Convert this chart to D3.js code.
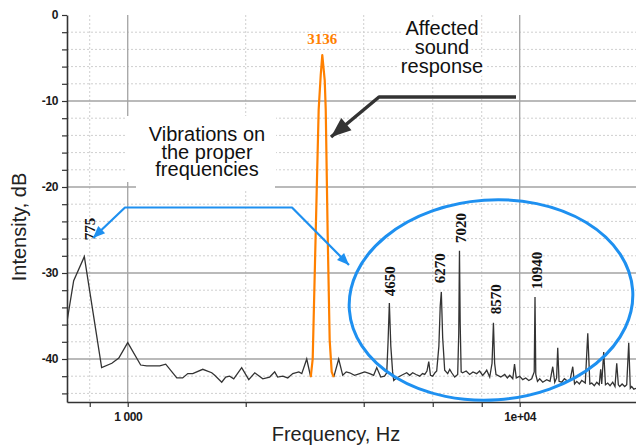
<!DOCTYPE html>
<html>
<head>
<meta charset="utf-8">
<script src="https://cdn.jsdelivr.net/npm/d3@7"></script>
<style>
  body { margin: 0; background: #fff; }
  svg { display: block; font-family: "Liberation Sans", Arial, sans-serif; }
</style>
</head>
<body>
<svg id="chart" width="636" height="448"></svg>
<script>

// spectrum below the resonance (Hz / dB)
var lowFreq = [699, 728, 775, 858, 911, 949, 1000, 1079, 1118, 1207, 1250, 1334, 1381, 1423, 1465,
  1554, 1638, 1667, 1737, 1778, 1820, 1864, 1953, 2036, 2109, 2211, 2302, 2371, 2413, 2486,
  2560, 2637, 2732, 2780, 2862, 2930];
var lowDb = [-35.8, -30.9, -28.1, -41.0, -40.5, -39.9, -38.1, -40.7, -40.8, -40.8, -40.6, -42.2, -42.2, -41.7, -41.7,
  -41.2, -41.6, -41.9, -42.7, -42.1, -42.0, -42.3, -41.0, -42.4, -41.6, -42.3, -42.1, -41.5, -42.1, -42.0,
  -42.2, -41.7, -41.5, -41.7, -40.0, -42.1];

// affected sound response (orange peak)
var peakFreq = [2930, 2964, 2999, 3034, 3070, 3107, 3136, 3181, 3200, 3237, 3275, 3314, 3354];
var peakDb = [-42.1, -40.0, -30.3, -20.7, -11.0, -7.0, -4.65, -7.6, -11.0, -25.6, -37.8, -41.5, -42.1];

// spectrum above the resonance
var highFreq = [3354, 3453, 3536, 3610, 3684, 3790, 3907, 4024, 4144, 4240, 4318, 4421, 4520, 4579, 4615,
  4650, 4690, 4740, 4771, 4850, 4943, 5040, 5149, 5240, 5333, 5440, 5558, 5650, 5724, 5800,
  5861, 5920, 5999, 6080, 6141, 6220, 6270, 6310, 6360, 6436, 6551, 6630, 6707, 6826, 6947,
  6990, 7020, 7050, 7090, 7152, 7300, 7453, 7600, 7767, 7900, 8046, 8150, 8238, 8385, 8500,
  8570, 8630, 8700, 8788, 8950, 9157, 9300, 9430, 9600, 9700, 9800, 10000, 10180, 10359, 10550,
  10730, 10890, 10940, 10990, 11100, 11245, 11450, 11718, 11950, 12141, 12285, 12420, 12502, 12600, 12799,
  13000, 13259, 13450, 13655, 13800, 13980, 14200, 14398, 14700, 14915, 15100, 15270, 15500, 15726, 15950,
  16091, 16188, 16379, 16550, 16768, 17000, 17270, 17500, 17681, 17850, 17996, 18250, 18532, 18750, 18972,
  19150, 19307, 19550, 19800];
var highDb = [-42.1, -40.0, -41.9, -41.5, -41.6, -41.9, -41.7, -41.5, -41.7, -41.9, -41.0, -42.1, -42.0, -41.6, -38.0,
  -33.5, -38.5, -41.5, -42.5, -42.2, -42.0, -41.8, -41.6, -41.9, -41.6, -41.8, -42.0, -41.7, -41.8, -41.4,
  -40.3, -41.9, -42.0, -41.6, -41.4, -38.5, -33.8, -32.2, -37.5, -41.3, -41.7, -41.2, -41.6, -42.1, -41.8,
  -37.0, -27.4, -36.0, -41.5, -41.6, -41.4, -41.8, -41.5, -41.7, -41.4, -41.9, -41.6, -41.3, -42.1, -40.5,
  -35.8, -40.5, -41.8, -41.9, -42.1, -41.8, -42.2, -41.9, -42.3, -40.6, -42.2, -42.0, -42.4, -42.2, -42.5,
  -42.3, -41.5, -32.8, -41.8, -42.6, -42.3, -42.7, -42.4, -42.6, -40.9, -42.7, -42.2, -38.7, -42.6, -42.7,
  -42.3, -42.6, -42.4, -40.9, -42.9, -42.6, -42.9, -42.5, -42.8, -37.0, -42.9, -42.8, -43.1, -42.7, -43.0,
  -41.2, -42.9, -39.2, -43.0, -42.8, -43.1, -42.7, -43.2, -40.5, -43.0, -43.2, -42.9, -43.2, -43.0, -38.1,
  -43.4, -43.2, -43.5, -43.4];

// proper frequency labels (rotated), anchored at their lower end
var labelText = ["775", "4650", "6270", "7020", "8570", "10940"];
var labelFreq = [801, 4668, 6261, 7085, 8700, 11070];
var labelDb = [-26.2, -32.7, -31.2, -26.5, -34.8, -31.9];

var yMajor = [0, -10, -20, -30, -40];
var yMinor = [-2, -4, -6, -8, -12, -14, -16, -18, -22, -24, -26, -28, -32, -34, -36, -38, -42, -44];
var xMajor = [1000, 10000];
var xMinor = [800, 2000, 4000, 6000, 8000];
var xTickText = {1000: "1 000", 10000: "1e+04"};

// plot box (note: "top" is taken by window.top)
var plotLeft = 67, plotRight = 636, plotTop = 15, plotBottom = 402;

var svg = d3.select("#chart");

var x = d3.scaleLog().domain([700, 19800]).range([plotLeft, plotRight]);
var y = d3.scaleLinear().domain([-45, 0]).range([plotBottom, plotTop]);

// grid ---------
var grid = svg.append("g");
grid.selectAll(".hmin").data(yMinor).enter().append("line")
  .attr("x1", plotLeft).attr("x2", plotRight)
  .attr("y1", function(d) { return y(d); }).attr("y2", function(d) { return y(d); })
  .attr("stroke", "#cfcfcf").attr("stroke-dasharray", "2,2");
grid.selectAll(".vmin").data(xMinor).enter().append("line")
  .attr("x1", function(d) { return x(d); }).attr("x2", function(d) { return x(d); })
  .attr("y1", plotTop).attr("y2", plotBottom)
  .attr("stroke", "#cfcfcf").attr("stroke-dasharray", "2,2");
grid.selectAll(".hmaj").data(yMajor.slice(1)).enter().append("line")
  .attr("x1", plotLeft).attr("x2", plotRight)
  .attr("y1", function(d) { return y(d); }).attr("y2", function(d) { return y(d); })
  .attr("stroke", "#a3a3a3").attr("stroke-width", 1.3);
grid.selectAll(".vmaj").data(xMajor).enter().append("line")
  .attr("x1", function(d) { return x(d); }).attr("x2", function(d) { return x(d); })
  .attr("y1", plotTop).attr("y2", plotBottom)
  .attr("stroke", "#a3a3a3").attr("stroke-width", 1.3);

// white box behind the left annotation text
svg.append("rect").attr("x", 126).attr("y", 116).attr("width", 150).attr("height", 66).attr("fill", "#fff");
svg.append("rect").attr("x", 136).attr("y", 182).attr("width", 139).attr("height", 9).attr("fill", "#fff");

// axes ---------
var yAxis = d3.axisLeft(y)
  .tickValues(yMajor.concat(yMinor))
  .tickSize(5).tickSizeOuter(0).tickPadding(4)
  .tickFormat(function(d) { return d % 10 === 0 ? d : ""; });
var xAxis = d3.axisBottom(x)
  .tickValues(xMinor.concat(xMajor))
  .tickSize(5).tickSizeOuter(0).tickPadding(5)
  .tickFormat(function(d) { return xTickText[d] || ""; });

var gy = svg.append("g").attr("transform", "translate(" + plotLeft + ",0)").call(yAxis);
var gx = svg.append("g").attr("transform", "translate(0," + plotBottom + ")").call(xAxis);
[gx, gy].forEach(function(g) {
  g.select(".domain").attr("stroke", "#333").attr("stroke-width", 1.6);
  g.selectAll(".tick line").attr("stroke", "#333").attr("stroke-width", 1.2);
  g.selectAll(".tick text")
    .attr("fill", "#1a1a1a")
    .style("font-family", "'Liberation Sans', Arial, sans-serif")
    .style("font-size", "12px").style("font-weight", "bold")
    .style("letter-spacing", "-0.4px");
});

svg.append("text")
  .attr("transform", "translate(26,227) rotate(-90)")
  .attr("text-anchor", "middle")
  .style("font-size", "20px").attr("fill", "#222")
  .text("Intensity, dB");
svg.append("text")
  .attr("x", 336).attr("y", 441)
  .attr("text-anchor", "middle")
  .style("font-size", "20px").attr("fill", "#222")
  .text("Frequency, Hz");

// spectrum ---------
svg.append("clipPath").attr("id", "plot")
  .append("rect").attr("x", plotLeft).attr("y", 0)
  .attr("width", plotRight - plotLeft).attr("height", plotBottom);

var line = d3.line()
  .x(function(d) { return x(d[0]); })
  .y(function(d) { return y(d[1]); });

var plot = svg.append("g").attr("clip-path", "url(#plot)");
plot.append("path").datum(d3.zip(lowFreq, lowDb))
  .attr("d", line).attr("fill", "none").attr("stroke", "#333").attr("stroke-width", 1.3);
plot.append("path").datum(d3.zip(highFreq, highDb))
  .attr("d", line).attr("fill", "none").attr("stroke", "#333").attr("stroke-width", 1.3);
plot.append("path").datum(d3.zip(peakFreq, peakDb))
  .attr("d", line).attr("fill", "none").attr("stroke", "#ff8000").attr("stroke-width", 2.2)
  .attr("stroke-linejoin", "round");

// labels on the peaks
svg.selectAll(".plabel").data(labelText).enter().append("text")
  .attr("transform", function(d, i) {
    return "translate(" + x(labelFreq[i]) + "," + y(labelDb[i]) + ") rotate(-90)";
  })
  .attr("dominant-baseline", "central")
  .style("font-family", "'Liberation Serif', 'Times New Roman', serif")
  .style("font-size", "15px").style("font-weight", "bold")
  .attr("fill", "#111")
  .text(function(d) { return d; });

svg.append("text")
  .attr("x", x(3136)).attr("y", 44)
  .attr("text-anchor", "middle")
  .style("font-family", "'Liberation Serif', 'Times New Roman', serif")
  .style("font-size", "15px").style("font-weight", "bold")
  .attr("fill", "#ff8000")
  .text("3136");

// annotations ---------
function arrowHead(from, tip, len, half) {
  var dx = tip[0] - from[0], dy = tip[1] - from[1];
  var d = Math.sqrt(dx * dx + dy * dy);
  var ux = dx / d, uy = dy / d;
  var bx = tip[0] - ux * len, by = tip[1] - uy * len;
  return "M" + tip[0] + "," + tip[1] +
    "L" + (bx - uy * half) + "," + (by + ux * half) +
    "L" + (bx + uy * half) + "," + (by - ux * half) + "Z";
}

function arrowLine(pts, color, width, len, half, both) {
  var n = pts.length;
  svg.append("path")
    .attr("d", d3.line()(pts))
    .attr("fill", "none").attr("stroke", color).attr("stroke-width", width)
    .attr("stroke-linejoin", "round");
  svg.append("path").attr("d", arrowHead(pts[n - 2], pts[n - 1], len, half)).attr("fill", color);
  if (both) svg.append("path").attr("d", arrowHead(pts[1], pts[0], len, half)).attr("fill", color);
}

var blue = "#1e90f0";
svg.append("ellipse")
  .attr("cx", 491).attr("cy", 300).attr("rx", 142).attr("ry", 100)
  .attr("transform", "rotate(-4,491,300)")
  .attr("fill", "none").attr("stroke", blue).attr("stroke-width", 3);

arrowLine([[93, 238], [125, 207.5], [292, 207.5], [349, 265]], blue, 2.2, 12, 5, true);
arrowLine([[516, 97], [379, 97], [331, 137]], "#333", 3.5, 20, 8, false);

var textStyle = function(sel) {
  sel.attr("text-anchor", "middle").style("font-size", "20px").attr("fill", "#111");
};

var leftNote = ["Vibrations on", "the proper", "frequencies"];
var leftY = [141, 158.5, 176];
svg.selectAll(".lnote").data(leftNote).enter().append("text")
  .attr("x", 207).attr("y", function(d, i) { return leftY[i]; })
  .call(textStyle).text(function(d) { return d; });

var rightNote = ["Affected", "sound", "response"];
var rightY = [35, 54, 72.5];
svg.selectAll(".rnote").data(rightNote).enter().append("text")
  .attr("x", 442).attr("y", function(d, i) { return rightY[i]; })
  .call(textStyle)
  .attr("stroke", "#fff").attr("stroke-width", 7).attr("paint-order", "stroke")
  .text(function(d) { return d; });

</script>
</body>
</html>
